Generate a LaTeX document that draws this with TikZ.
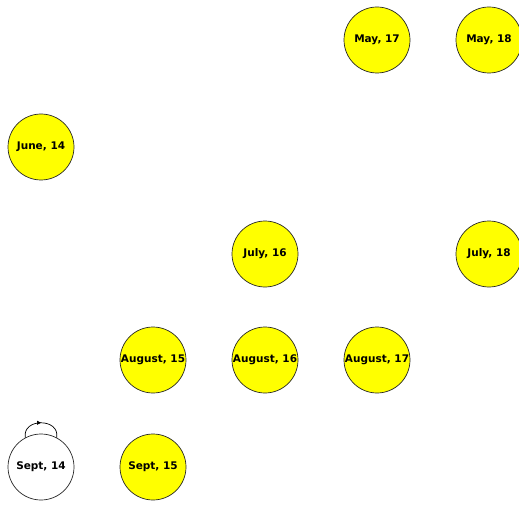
\documentclass[tikz,border=0pt]{standalone}
\usepackage{fontspec}
\setmainfont{DejaVu Sans}
\usetikzlibrary{arrows.meta,decorations.markings}
\definecolor{nodeyellow}{RGB}{255,255,0}
\begin{document}
\begin{tikzpicture}[x=1pt,y=-1pt,
  month/.style={circle,draw=black!85,line width=0.7pt,fill=nodeyellow,minimum size=66pt,inner sep=0pt,font=\bfseries\fontsize{10.5}{12}\selectfont},
  plainmonth/.style={month,fill=white},
  midarrow/.style={line width=0.7pt,decoration={markings,mark=at position 0.5 with {\arrow{Triangle[length=4pt,width=4pt]}}},postaction={decorate}}]
\useasboundingbox (0,0) rectangle (519,505);
\node[month] (may17) at (377,40) {May, 17};
\node[month] (may18) at (489,40) {May, 18};
\node[month] (jun14) at (41,147) {June, 14};
\node[month] (jul16) at (265,254) {July, 16};
\node[month] (jul18) at (489,254) {July, 18};
\node[month] (aug15) at (153,360) {August, 15};
\node[month] (aug16) at (265,360) {August, 16};
\node[month] (aug17) at (377,360) {August, 17};
\node[plainmonth] (sep14) at (41,467) {Sept, 14};
\node[month] (sep15) at (153,467) {Sept, 15};
\draw[midarrow] (sep14.118) .. controls +(-100:20) and +(-80:20) .. (sep14.62);
\end{tikzpicture}
\end{document}
